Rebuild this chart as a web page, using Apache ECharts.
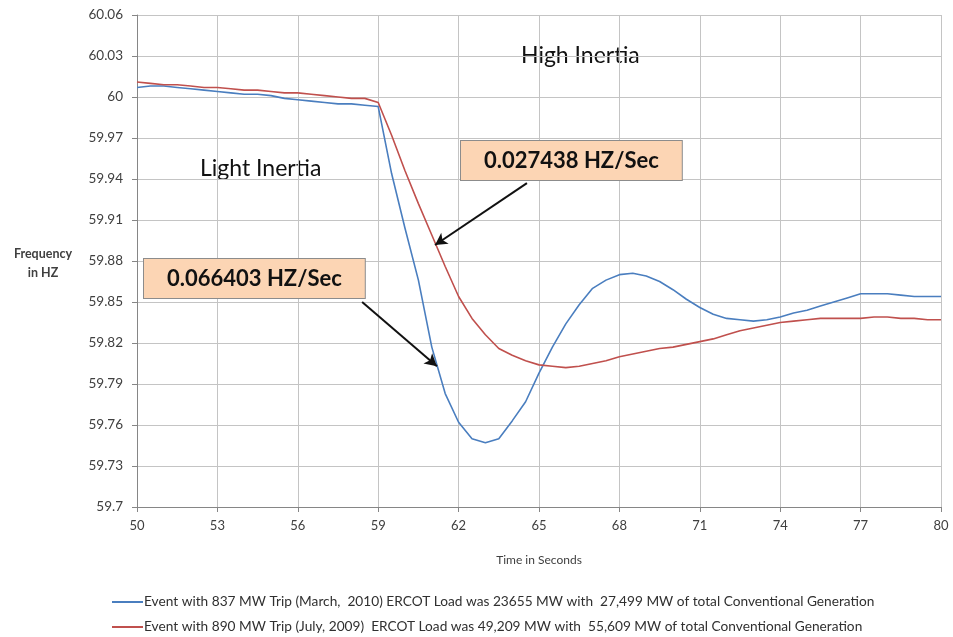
<!DOCTYPE html>
<html>
<head>
<meta charset="utf-8">
<script src="https://cdn.jsdelivr.net/npm/echarts@6/dist/echarts.min.js"></script>
<style>html,body{margin:0;padding:0;background:#fff;}#c{width:953px;height:637px;}</style>
</head>
<body>
<div id="c"></div>
<script>
// Time in seconds
var times = [50,50.5,51,51.5,52,52.5,53,53.5,54,54.5,55,55.5,56,56.5,57,57.5,58,58.5,59,59.5,
  60,60.5,61,61.5,62,62.5,63,63.5,64,64.5,65,65.5,66,66.5,67,67.5,68,68.5,69,69.5,
  70,70.5,71,71.5,72,72.5,73,73.5,74,74.5,75,75.5,76,76.5,77,77.5,78,78.5,79,79.5,80];
// Event with 837 MW Trip (March, 2010)
var blueHz = [60.007,60.008,60.008,60.007,60.006,60.005,60.004,60.003,60.002,60.002,
  60.001,59.999,59.998,59.997,59.996,59.995,59.995,59.994,59.993,59.944,
  59.904,59.866,59.817,59.783,59.762,59.750,59.747,59.750,59.763,59.777,
  59.798,59.817,59.834,59.848,59.860,59.866,59.870,59.871,59.869,59.865,
  59.859,59.852,59.846,59.841,59.838,59.837,59.836,59.837,59.839,59.842,
  59.844,59.847,59.850,59.853,59.856,59.856,59.856,59.855,59.854,59.854,59.854];
// Event with 890 MW Trip (July, 2009)
var redHz = [60.011,60.010,60.009,60.009,60.008,60.007,60.007,60.006,60.005,60.005,
  60.004,60.003,60.003,60.002,60.001,60.000,59.999,59.999,59.996,59.972,
  59.946,59.922,59.899,59.876,59.854,59.838,59.826,59.816,59.811,59.807,
  59.804,59.803,59.802,59.803,59.805,59.807,59.810,59.812,59.814,59.816,
  59.817,59.819,59.821,59.823,59.826,59.829,59.831,59.833,59.835,59.836,
  59.837,59.838,59.838,59.838,59.838,59.839,59.839,59.838,59.838,59.837,59.837];
var xTicks = [50,53,56,59,62,65,68,71,74,77,80];
var seriesNames = [
  'Event with 837 MW Trip (March,  2010) ERCOT Load was 23655 MW with  27,499 MW of total Conventional Generation',
  'Event with 890 MW Trip (July, 2009)  ERCOT Load was 49,209 MW with  55,609 MW of total Conventional Generation'
];
var rateLabels = ['0.066403 HZ/Sec', '0.027438 HZ/Sec'];

function pairs(v){ return times.map(function(t,i){ return [t, v[i]]; }); }

var chart = echarts.init(document.getElementById('c'), null, {renderer:'canvas'});
var FONT = 'Lato';
function legendFor(name, top){
  return {
    left: 112, top: top, itemWidth: 31, itemHeight: 2, icon: 'rect', padding: 0,
    textStyle: {color: '#303030', fontFamily: FONT, fontSize: 13.7, padding: [0,0,0,-4]},
    data: [name]
  };
}
var option = {
  animation: false,
  backgroundColor: '#fff',
  grid: {left: 137, right: 12, top: 15, bottom: 130},
  xAxis: {
    type: 'value', min: 50, max: 80,
    axisLine: {show: true, lineStyle: {color: '#868686'}},
    axisTick: {show: true, length: 5, lineStyle: {color: '#868686'}, customValues: xTicks},
    axisLabel: {customValues: xTicks, color: '#404040', fontFamily: FONT, fontSize: 13, margin: 12},
    splitLine: {show: true, lineStyle: {color: '#c4c4c4'}},
    name: 'Time in Seconds', nameLocation: 'middle', nameGap: 47,
    nameTextStyle: {color: '#404040', fontFamily: FONT, fontSize: 12}
  },
  yAxis: {
    type: 'value', min: 59.7, max: 60.06, interval: 0.03,
    axisLine: {show: true, lineStyle: {color: '#868686'}},
    axisTick: {show: true, length: 5, lineStyle: {color: '#868686'}},
    axisLabel: {color: '#404040', fontFamily: FONT, fontSize: 13.5, margin: 14,
      formatter: function(v){ return String(parseFloat(v.toFixed(2))); }},
    splitLine: {show: true, lineStyle: {color: '#c4c4c4'}}
  },
  legend: [legendFor(seriesNames[0], 595), legendFor(seriesNames[1], 620)],
  series: [
    {name: seriesNames[0], type: 'line', data: pairs(blueHz), showSymbol: false,
     lineStyle: {color: '#4a7ebf', width: 1.6}, itemStyle: {color: '#4a7ebf'},
     markLine: {silent: true, symbol: ['none','arrow'], symbolSize: [10,12],
       label: {show: false}, lineStyle: {color: '#111', width: 2, type: 'solid'},
       data: [[{coord: [58.40, 59.850]}, {coord: [61.19, 59.803]}]]}},
    {name: seriesNames[1], type: 'line', data: pairs(redHz), showSymbol: false,
     lineStyle: {color: '#c0504d', width: 1.6}, itemStyle: {color: '#c0504d'},
     markLine: {silent: true, symbol: ['none','arrow'], symbolSize: [10,12],
       label: {show: false}, lineStyle: {color: '#111', width: 2, type: 'solid'},
       data: [[{coord: [64.55, 59.937]}, {coord: [61.12, 59.8917]}]]}}
  ],
  graphic: [
    {type: 'text', x: 43, y: 244, style: {text: 'Frequency\nin HZ', align: 'center',
      fill: '#404040', font: 'bold 12.5px Lato', lineHeight: 19}},
    {type: 'text', left: 521, top: 44, style: {text: 'High Inertia', fill: '#111', font: '23px Lato'}},
    {type: 'text', left: 200, top: 157, style: {text: 'Light Inertia', fill: '#111', font: '23px Lato'}},
    {type: 'text', left: 460, top: 140, z: 50, style: {text: rateLabels[1], fill: '#111',
      font: 'bold 22px Lato', backgroundColor: '#fcd5b4', borderColor: '#8c8c8c', borderWidth: 1,
      padding: [9, 23, 8, 23]}},
    {type: 'text', left: 143, top: 258, z: 50, style: {text: rateLabels[0], fill: '#111',
      font: 'bold 22px Lato', backgroundColor: '#fcd5b4', borderColor: '#8c8c8c', borderWidth: 1,
      padding: [9, 23, 8, 23]}}
  ]
};
chart.setOption(option);
</script>
</body>
</html>
